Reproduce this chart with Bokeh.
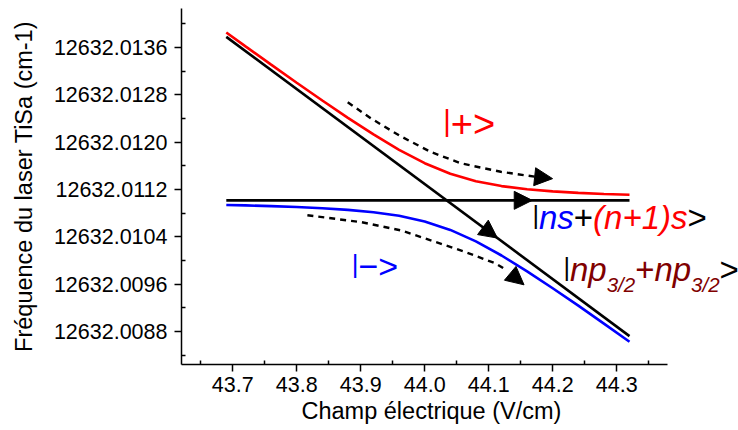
from bokeh.plotting import figure
from bokeh.models import (Range1d, FixedTicker, PrintfTickFormatter, Label, Arrow,
                          NormalHead, Title)
from bokeh.embed import file_html
from bokeh.resources import INLINE

# ---------------- data ----------------
x_pts = [43.69, 43.72, 43.76, 43.80, 43.84, 43.88, 43.92, 43.96, 44.00,
         44.04, 44.08, 44.12, 44.16, 44.20, 44.24, 44.28, 44.32]
upper_state = [12632.013854, 12632.013620, 12632.013311, 12632.013005, 12632.012704,
               12632.012411, 12632.012130, 12632.011871, 12632.011644, 12632.011465,
               12632.011339, 12632.011257, 12632.011203, 12632.011167, 12632.011142,
               12632.011124, 12632.011110]
lower_state = [12632.010937, 12632.010930, 12632.010918, 12632.010903, 12632.010883,
               12632.010855, 12632.010815, 12632.010754, 12632.010659, 12632.010516,
               12632.010322, 12632.010083, 12632.009815, 12632.009530, 12632.009235,
               12632.008932, 12632.008624]

pp_x = [43.69, 44.32]
pp_y = [12632.013780, 12632.008720]
ss_x = [43.69, 44.32]
ss_y = [12632.011016, 12632.011016]

dash_up_x = [43.8797, 43.9156, 43.9625, 44.0094, 44.0563, 44.1188, 44.1734]
dash_up_y = [12632.012674, 12632.012404, 12632.012099, 12632.011835, 12632.011642,
             12632.011499, 12632.011414]
dash_lo_x = [43.8167, 43.9000, 43.9625, 44.0094, 44.0609, 44.1109, 44.1281]
dash_lo_y = [12632.010763, 12632.010649, 12632.010509, 12632.010339, 12632.010153,
             12632.009950, 12632.009832]

# arrow heads: (x_from, y_from, x_tip, y_tip)
heads = [
    (44.1734, 12632.011414, 44.1998, 12632.011383),   # upper dashed
    (44.1281, 12632.009832, 44.1552, 12632.009587),   # lower dashed
    (44.14, 12632.011016, 44.168, 12632.011016),      # horizontal
    (44.09, 12632.010567, 44.1136, 12632.010378),     # diagonal
]

x_ticks = [43.7, 43.8, 43.9, 44.0, 44.1, 44.2, 44.3]
x_minor = [43.65, 43.75, 43.85, 43.95, 44.05, 44.15, 44.25, 44.35]
y_ticks = [12632.0088, 12632.0096, 12632.0104, 12632.0112, 12632.0120, 12632.0128, 12632.0136]
y_minor = [12632.0084, 12632.0092, 12632.0100, 12632.0108, 12632.0116, 12632.0124,
           12632.0132, 12632.0140]

X_START, X_AXIS_END, X_FRAME_END = 43.62, 44.38, 44.4903
Y_START, Y_END = 12632.00824, 12632.01426

FONT = "Liberation Sans"

p = figure(width=738, height=430, output_backend="svg", toolbar_location=None,
           x_range=Range1d(X_START, X_FRAME_END), y_range=Range1d(Y_START, Y_END),
           min_border_left=181, min_border_right=0, min_border_top=8, min_border_bottom=66)
p.outline_line_color = None
p.xgrid.visible = False
p.ygrid.visible = False
p.background_fill_color = "white"
p.border_fill_color = "white"

for ax in (p.xaxis[0], p.yaxis[0]):
    ax.axis_line_width = 1.5
    ax.axis_line_color = "black"
    ax.major_tick_line_width = 1.5
    ax.minor_tick_line_width = 1.5
    ax.major_tick_out = 7
    ax.major_tick_in = 0
    ax.minor_tick_in = 4
    ax.minor_tick_out = 0
    ax.major_label_text_font = FONT
    ax.major_label_text_font_size = "21.5px"
    ax.major_label_text_color = "black"
    ax.axis_label_text_font = FONT
    ax.axis_label_text_font_size = "23.5px"
    ax.axis_label_text_font_style = "normal"
    ax.axis_label_text_color = "black"

p.xaxis[0].bounds = (X_START, X_AXIS_END)
p.xaxis[0].ticker = FixedTicker(ticks=x_ticks, minor_ticks=x_minor)
p.yaxis[0].ticker = FixedTicker(ticks=y_ticks, minor_ticks=y_minor)
p.yaxis[0].formatter = PrintfTickFormatter(format="%.4f")
p.xaxis[0].formatter = PrintfTickFormatter(format="%.1f")
p.yaxis[0].axis_label = "Fréquence du laser TiSa (cm-1)"
p.xaxis[0].major_label_standoff = 5
p.yaxis[0].major_label_standoff = 7
p.yaxis[0].axis_label_standoff = 14

p.add_layout(Title(text="Champ électrique (V/cm)", align="left", offset=120,
                   text_font=FONT, text_font_size="23.5px", text_font_style="normal",
                   text_color="black", standoff=2), "below")

# curves
p.line(x_pts, upper_state, line_color="#ff0000", line_width=2.6)
p.line(x_pts, lower_state, line_color="#0000ff", line_width=2.6)
p.line(pp_x, pp_y, line_color="black", line_width=2.6)
p.line(ss_x, ss_y, line_color="black", line_width=2.6)
p.line(dash_up_x, dash_up_y, line_color="black", line_width=2.4, line_dash="6 5")
p.line(dash_lo_x, dash_lo_y, line_color="black", line_width=2.4, line_dash="6 5")

for (x0, y0, x1, y1) in heads:
    p.add_layout(Arrow(x_start=x0, y_start=y0, x_end=x1, y_end=y1, line_alpha=0,
                       end=NormalHead(size=18, fill_color="black", line_color="black",
                                      line_width=1)))

MID = 0.35  # 'middle' baseline -> alphabetic baseline shift (em)

def seg(x, y, txt, size, color, style="normal", dx=0, dy=0):
    # dy is the baseline shift (px, positive = up); converted for middle anchoring
    p.add_layout(Label(x=x, y=y, x_offset=dx, y_offset=dy + MID * size, text=txt,
                       text_font=FONT, text_font_size=f"{size}px",
                       text_color=color, text_font_style=style,
                       text_baseline="middle", text_align="left"))

def ket_bar(x, y, F, color, dx=0):
    fb = round(0.763 * F, 1)
    seg(x, y, "|", fb, color, dx=dx, dy=0.21 * fb)
    return 0.26 * fb

# |+>
F1 = 38
w = ket_bar(44.0289, 12632.012077, F1, "#ff0000")
seg(44.0289, 12632.012077, "+>", F1, "#ff0000", dx=w)
# |->
F2 = 34
w = ket_bar(43.8859, 12632.009701, F2, "#0000ff")
seg(43.8859, 12632.009701, "−>", F2, "#0000ff", dx=w)

# |ns+(n+1)s>
F = 33
bx, by = 44.1683, 12632.010537
w = ket_bar(bx, by, F, "black")
seg(bx, by, "ns", F, "#0000ff", "italic", dx=w)
w2 = w + 1.056 * F
seg(bx, by, "+", F, "black", dx=w2)
w3 = w2 + 0.584 * F
seg(bx, by, "(n+1)s", F, "#ff0000", "italic", dx=w3)
w4 = w3 + 2.862 * F
seg(bx, by, ">", F, "black", dx=w4)

# |np3/2+np3/2>
cx, cy = 44.2167, 12632.009658
dr = "#800000"
fs = 20.5
w = ket_bar(cx, cy, F, "black")
seg(cx, cy, "np", F, dr, "italic", dx=w)
w += 1.112 * F
seg(cx, cy, "3/2", fs, dr, "italic", dx=w, dy=-11)
w += 1.39 * fs
seg(cx, cy, "+", F, dr, dx=w)
w += 0.584 * F
seg(cx, cy, "np", F, dr, "italic", dx=w)
w += 1.112 * F
seg(cx, cy, "3/2", fs, dr, "italic", dx=w, dy=-11)
w += 1.39 * fs
seg(cx, cy, ">", F, "black", dx=w)

open("out.html", "w").write(file_html(p, INLINE))
